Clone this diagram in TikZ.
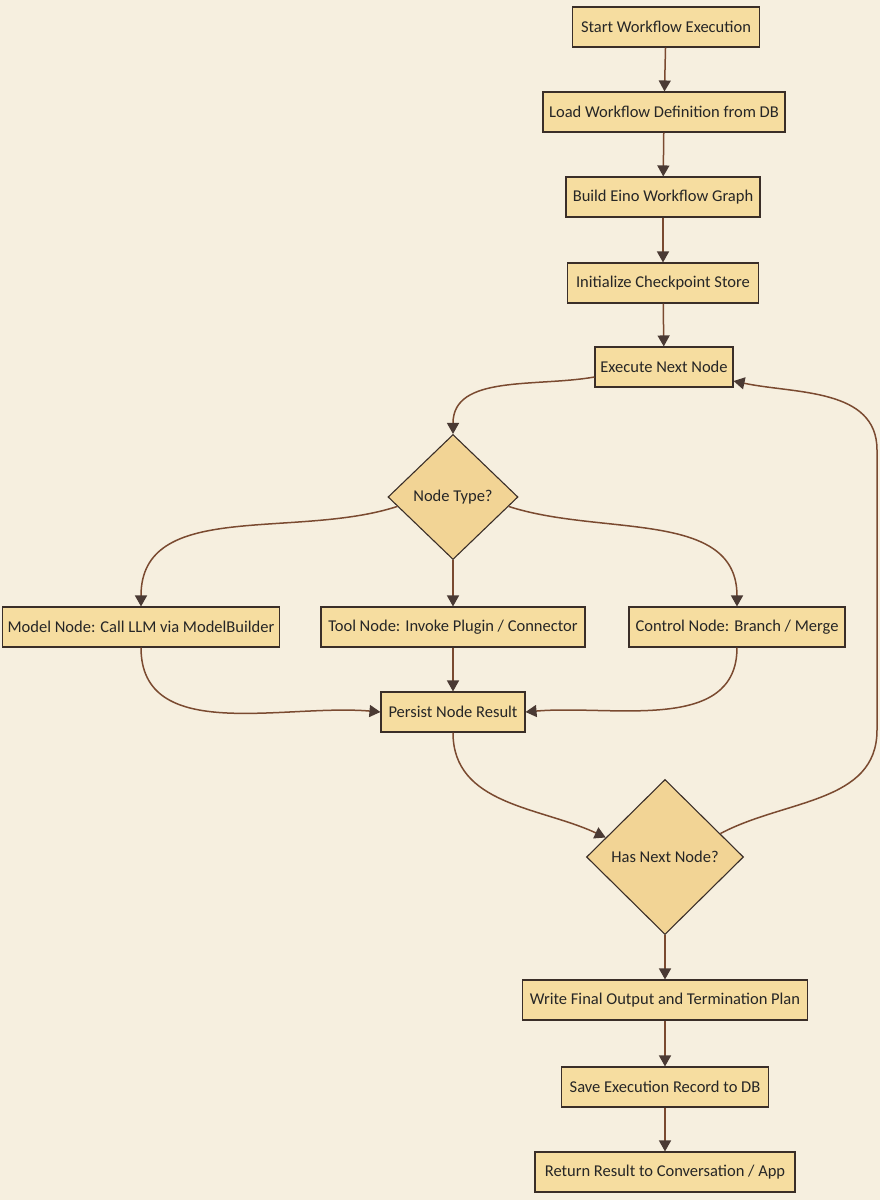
\documentclass[tikz,border=0pt]{standalone}
\usepackage{fontspec}
\setmainfont{Carlito}
\usetikzlibrary{shapes.geometric,arrows.meta,calc}
\definecolor{paper}{HTML}{F6EFDF}
\definecolor{boxfill}{HTML}{F6DDA0}
\definecolor{dmdfill}{HTML}{F2D495}
\definecolor{ink}{HTML}{3A2E28}
\definecolor{wire}{HTML}{7A4A30}
\definecolor{tip}{HTML}{4A3A34}
\tikzset{
  stepbox/.style={draw=ink,fill=boxfill,line width=1.1pt,minimum height=40pt,inner sep=2pt,font=\fontsize{16.5}{19}\selectfont,text=black!85},
  dmd/.style={diamond,draw=ink,fill=dmdfill,line width=1.1pt,inner sep=0pt,font=\fontsize{16.5}{19}\selectfont,text=black!85},
  arr/.style={draw=wire,line width=1.5pt,-{Triangle[width=12pt,length=11pt,fill=tip,color=tip]}},
}
\begin{document}
\begin{tikzpicture}[x=1pt,y=-1pt]
\fill[paper] (0,0) rectangle (880,1200);
\useasboundingbox (0,0) rectangle (880,1200);

\node[stepbox,minimum width=187pt] (start) at (666,27) {Start Workflow Execution};
\node[stepbox,minimum width=242pt] (load) at (664,112) {Load Workflow Definition from DB};
\node[stepbox,minimum width=194pt] (build) at (663,197) {Build Eino Workflow Graph};
\node[stepbox,minimum width=191pt] (init) at (663,283) {Initialize Checkpoint Store};
\node[stepbox,minimum width=138pt] (exec) at (664,367) {Execute Next Node};
\node[dmd,minimum width=130pt,minimum height=125pt] (nt) at (453,497) {Node Type?};
\node[stepbox,minimum width=277pt] (model) at (141,627) {Model Node: Call LLM via ModelBuilder};
\node[stepbox,minimum width=264pt] (tool) at (453,627) {Tool Node: Invoke Plugin / Connector};
\node[stepbox,minimum width=216pt] (ctrl) at (737,627) {Control Node: Branch / Merge};
\node[stepbox,minimum width=144pt] (persist) at (453,712) {Persist Node Result};
\node[dmd,minimum width=157pt,minimum height=155pt] (hn) at (665,857) {Has Next Node?};
\node[stepbox,minimum width=285pt] (write) at (665,1000) {Write Final Output and Termination Plan};
\node[stepbox,minimum width=207pt] (save) at (665,1087) {Save Execution Record to DB};
\node[stepbox,minimum width=260pt] (ret) at (665,1172) {Return Result to Conversation / App};

\coordinate (r1) at (877,730);
\coordinate (r2) at (877,450);

\draw[arr] (start) -- (load);
\draw[arr] (load) -- (build);
\draw[arr] (build) -- (init);
\draw[arr] (init) -- (exec);
\draw[arr] ([yshift=-10pt]exec.west) to[out=190,in=90] (nt.north);
\draw[arr] ($(nt.west)!0.15!(nt.south)$) to[out=198,in=90] (model.north);
\draw[arr] (nt.south) -- (tool.north);
\draw[arr] ($(nt.east)!0.15!(nt.south)$) to[out=-18,in=90] (ctrl.north);
\draw[arr] (model.south) to[out=-90,in=175] (persist.west);
\draw[arr] (tool.south) -- (persist.north);
\draw[arr] (ctrl.south) to[out=-90,in=5] (persist.east);
\draw[arr] (persist.south) to[out=-90,in=155] ($(hn.west)!0.25!(hn.north)$);
\draw[arr] ($(hn.east)!0.3!(hn.north)$) to[out=28,in=-90] (r1) -- (r2) to[out=90,in=-12] ([yshift=-14pt]exec.east);
\draw[arr] (hn.south) -- (write.north);
\draw[arr] (write) -- (save);
\draw[arr] (save) -- (ret);
\end{tikzpicture}
\end{document}
